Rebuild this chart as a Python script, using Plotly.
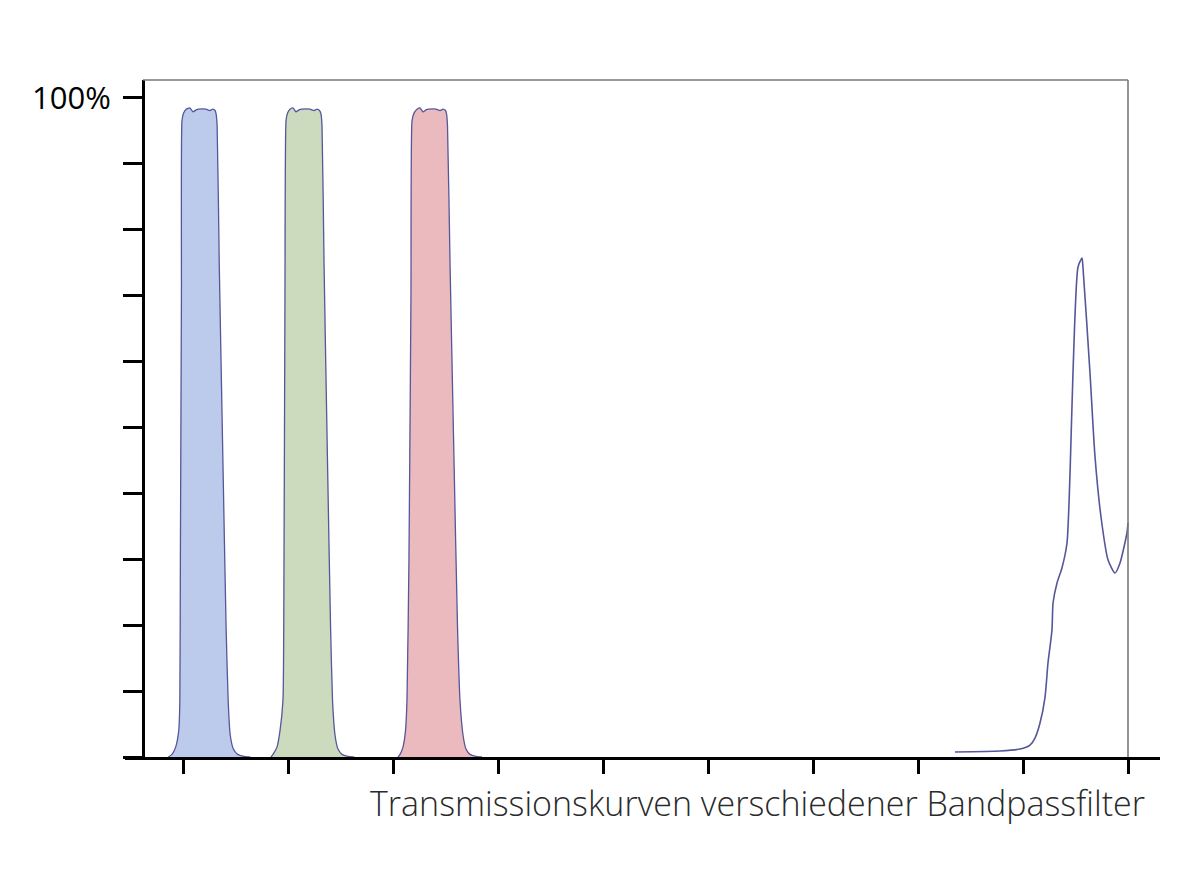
import plotly.graph_objects as go

# x in nm-like units (ticks at 400..1300), y in % transmission
blue_x = [386, 389.5, 393, 396, 397, 397.5, 398.5, 399, 400.5, 403, 406.5, 409.5, 412.5, 415, 422, 425.5, 428.5, 430.5, 431.5, 432.5, 434.5, 438, 441, 443, 445, 448, 452, 458, 464]
blue_y = [0, 0.4, 1.5, 4.1, 8.6, 30, 70, 96.5, 97.7, 98.3, 98.5, 97.9, 98.2, 98.3, 98.3, 98.1, 98.3, 98.1, 97.6, 95.8, 75, 45, 20, 8.6, 3.3, 1.2, 0.4, 0.1, 0]

green_x = [483.8, 485.7, 489.5, 492.4, 495.2, 496.2, 497.1, 498.1, 499.5, 501.9, 504.8, 507.6, 510.5, 513.3, 521.0, 524.8, 527.6, 530.0, 531.4, 532.4, 534.3, 537.6, 540.5, 542.4, 544.8, 547.6, 551.4, 557.0, 563.0]
green_y = [0, 0.4, 1.5, 4.0, 8.6, 30, 70, 96.5, 97.7, 98.3, 98.5, 97.9, 98.2, 98.3, 98.3, 98.1, 98.3, 98.1, 97.6, 95.8, 75, 45, 20, 8.6, 3.3, 1.2, 0.4, 0.1, 0]

red_x = [604.8, 606.7, 609.5, 611.9, 613.3, 615.2, 617.1, 618.1, 620.0, 622.9, 625.7, 628.6, 631.4, 634.3, 641.0, 644.8, 647.6, 650.0, 651.0, 651.9, 654.3, 658.1, 661.4, 663.8, 666.7, 669.5, 673.3, 679.0, 684.8]
red_y = [0, 0.4, 1.5, 4.0, 8.6, 30, 70, 96.5, 97.7, 98.3, 98.5, 97.9, 98.2, 98.3, 98.3, 98.1, 98.3, 98.1, 97.6, 95.8, 75, 45, 20, 8.6, 3.3, 1.2, 0.4, 0.1, 0]

ir_x = [1135.2, 1178.1, 1197.1, 1206.7, 1211.4, 1216.2, 1221.0, 1223.8, 1227.6, 1228.6, 1232.4, 1237.1, 1241.9, 1244.8, 1247.6, 1252.4, 1256.2, 1257.1, 1263.8, 1268.6, 1274.3, 1281.0, 1287.6, 1292.4, 1299.0, 1300.0]
ir_y = [0.76, 0.91, 1.21, 1.82, 2.88, 5.16, 9.10, 14.26, 19.27, 23.37, 26.40, 28.68, 32.47, 43.10, 58.27, 74.36, 75.72, 74.36, 58.27, 45.52, 36.42, 29.89, 27.92, 29.44, 33.99, 35.51]

x_ticks = [400, 500, 600, 700, 800, 900, 1000, 1100, 1200, 1300]
y_ticks = [0, 10, 20, 30, 40, 50, 60, 70, 80, 90, 100]
y_ticktext = ["", "", "", "", "", "", "", "", "", "", "100%"]
x_title = "Transmissionskurven verschiedener Bandpassfilter"

outline = "#56569a"
bands = [
    (blue_x, blue_y, "rgba(188,203,235,1)"),
    (green_x, green_y, "rgba(204,218,190,1)"),
    (red_x, red_y, "rgba(235,186,190,1)"),
]

fig = go.Figure()
for bx, by, col in bands:
    fig.add_trace(go.Scatter(x=bx, y=by, mode="lines", fill="toself", fillcolor=col,
                             line=dict(color=outline, width=1.3, shape="spline", smoothing=0.5),
                             hoverinfo="skip", showlegend=False))

fig.add_trace(go.Scatter(x=ir_x, y=ir_y, mode="lines",
                         line=dict(color=outline, width=1.6, shape="spline", smoothing=0.6),
                         hoverinfo="skip", showlegend=False))

x_min, x_max = 344.76, 1330.48
y_max = 102.73
yaxis_x = 361.9

# top and right frame lines
fig.add_shape(type="line", x0=yaxis_x, x1=1300, y0=1, y1=1, xref="x", yref="paper",
              line=dict(color="#7a7a7a", width=1.6))
fig.add_shape(type="line", x0=1300, x1=1300, y0=0, y1=1, xref="x", yref="paper",
              line=dict(color="#7a7a7a", width=1.6))

fig.add_annotation(x=(1147 - 125) / 1035, y=-(803 - 757) / 677, xref="paper", yref="paper",
                   text=x_title, showarrow=False, xanchor="right", yanchor="middle",
                   font=dict(family="Open Sans", size=34, color="#2a2a2a", weight=300))

fig.update_layout(
    width=1181, height=886,
    margin=dict(l=117, r=29, t=72, b=137),
    paper_bgcolor="white", plot_bgcolor="white",
    xaxis=dict(range=[x_min, x_max], showgrid=False, zeroline=False,
               showline=True, linecolor="black", linewidth=3,
               ticks="outside", ticklen=14, tickwidth=3, tickcolor="black",
               tickvals=x_ticks, showticklabels=False),
    yaxis=dict(range=[0, y_max], showgrid=False, zeroline=False,
               anchor="free", position=0.0174,
               showline=True, linecolor="black", linewidth=3,
               ticks="outside", ticklen=19, tickwidth=3, tickcolor="black",
               tickvals=y_ticks, ticktext=y_ticktext, ticklabelstandoff=6,
               tickfont=dict(family="Open Sans", size=31, color="black")),
)

fig.write_html("out.html")
